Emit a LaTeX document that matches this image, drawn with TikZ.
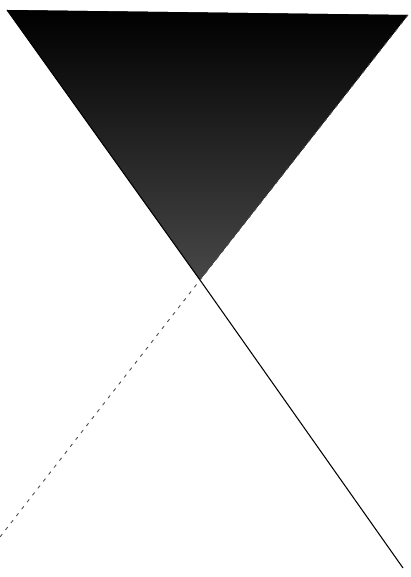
\documentclass[tikz,border=0pt]{standalone}
\usepackage{tikz}
\usetikzlibrary{calc}

\begin{document}
\begin{tikzpicture}[x=0.02cm, y=-0.02cm,
  solidline/.style={line width=0.6pt, black},
  dashline/.style={line width=0.5pt, black!70, dash pattern=on 2pt off 3pt},
  cone/.style={top color=black, middle color=black, bottom color=black!72, draw=none}]

  \useasboundingbox (0,0) rectangle (410,577);

  \coordinate (tl) at (7,10);
  \coordinate (tr) at (408,15);
  \coordinate (apex) at (200,280);
  \coordinate (br) at (403,568);
  \coordinate (bl) at (0,537);

  % upper cone
  \fill[cone] (tl) -- (tr) -- (apex) -- cycle;

  % the two generators
  \draw[solidline] (tl) -- (apex) -- (br);
  \draw[dashline] (tr) -- (apex) -- (bl);

\end{tikzpicture}
\end{document}
